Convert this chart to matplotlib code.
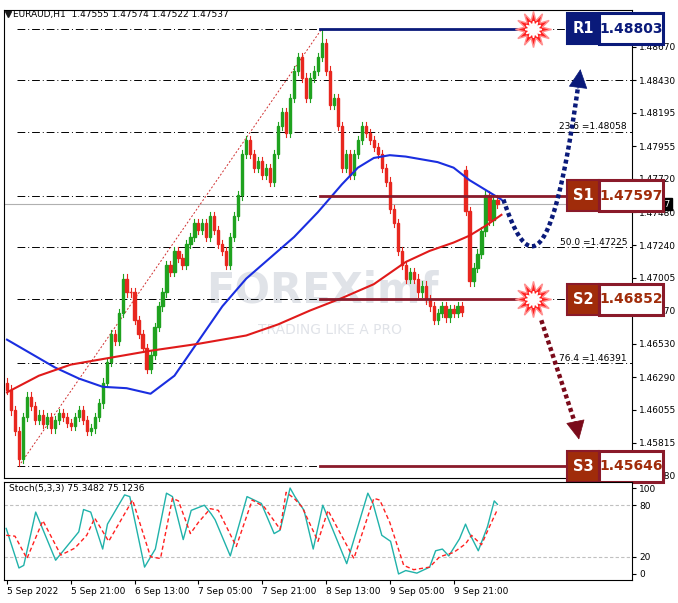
import matplotlib
matplotlib.use("Agg")
import matplotlib.pyplot as plt
import numpy as np
from matplotlib.patches import Rectangle

closes = [1.4620,1.4605,1.4590,1.4570,1.4600,1.4615,1.4608,1.4598,1.4602,
          1.4595,1.4600,1.4592,1.4598,1.4603,1.4600,1.4596,
          1.4594,1.4600,1.4605,1.4598,1.4590,
          1.4592,1.4600,1.4610,1.4625,
          1.4640,1.4660,1.4655,1.4675,1.4700,1.4690,
          1.4690,1.4670,1.4660,1.4650,1.4635,1.4645,
          1.4665,1.4680,1.4690,1.4710,1.4705,1.4720,
          1.4715,1.4710,1.4725,1.4730,1.4740,1.4735,1.4740,1.4730,
          1.4745,1.4735,1.4725,1.4720,1.4710,1.4730,
          1.4745,1.4760,1.4790,1.4800,1.4790,1.4780,
          1.4785,1.4775,1.4780,1.4770,1.4790,1.4810,
          1.4820,1.4805,1.4830,1.4850,1.4860,1.4845,
          1.4830,1.4845,1.4850,1.4860,1.4870,
          1.4850,1.4825,1.4830,1.4810,1.4780,1.4790,
          1.4775,1.4790,1.4800,1.4810,1.4805,
          1.4800,1.4795,1.4790,1.4780,1.4770,
          1.4750,1.4740,1.4720,1.4710,1.4700,
          1.4705,1.4700,1.4690,1.4695,1.4685,1.4680,
          1.4670,1.4675,1.4680,1.4672,1.4678,1.4675,1.4680,1.4676,
          1.4749,1.4698,1.4708,1.4718,1.4734,1.4760,1.4742,1.4757,1.47537]
first_open = 1.4625
gap_index = 115
gap_open = 1.4778
wick = 0.0003

blue_x = [0, 6, 12, 18, 24, 30, 36, 42, 48, 54, 60, 66, 72, 78, 84, 88, 92, 96, 100, 104, 108, 112, 116, 120, 124]
blue_y = [1.4656, 1.4646, 1.4636, 1.4628, 1.4622, 1.4621, 1.4617, 1.4630, 1.4655, 1.4680, 1.4700, 1.4715, 1.4730,
          1.4748, 1.4768, 1.4780, 1.4787, 1.4789, 1.4788, 1.4786, 1.4784, 1.4780, 1.4771, 1.4764, 1.4757]
red_x = [0, 8, 16, 24, 36, 48, 60, 68, 76, 84, 92, 100, 106, 112, 116, 120, 124]
red_y = [1.4618, 1.4630, 1.4638, 1.4642, 1.4648, 1.4653, 1.4659, 1.4667, 1.4677, 1.4686, 1.4696, 1.4712,
         1.4720, 1.4726, 1.4731, 1.4738, 1.4746]

levels = [1.48803, 1.48430, 1.48058, 1.47597, 1.47225, 1.46852, 1.46391, 1.45646]
sr_names = ["R1", "S1", "S2", "S3"]
sr_values = [1.48803, 1.47597, 1.46852, 1.45646]
fib_labels = {1.48058: "23.6 =1.48058", 1.47225: "50.0 =1.47225", 1.46391: "76.4 =1.46391"}
price_ticks = [1.48670,1.48430,1.48195,1.47955,1.47720,1.47480,1.47240,1.47005,1.46770,
               1.46530,1.46290,1.46055,1.45815,1.45580]
time_labels = ["5 Sep 2022","5 Sep 21:00","6 Sep 13:00","7 Sep 05:00","7 Sep 21:00",
               "8 Sep 13:00","9 Sep 05:00","9 Sep 21:00"]

k_x = [-0.2,3,4.2,7.2,12.2,15,18,19.2,21,24,25.2,29.5,30.8,34.5,37.2,40,41.5,44.2,46.2,49.5,
       51.2,52.2,56,60.2,63.8,67,68.5,71,72.2,74.5,76.8,79.2,85.2,90.5,91.8,94,96.2,98.2,100,
       102.8,106,107.5,109.2,110.8,113.5,115,115.8,118.2,120.5,122.2,123]
k_y = [53,7,10,72,16,32,49,75,72,29,58,92,90,8,29,94,90,40,74,80,70,63,21,90,82,47,51,100,
       90,74,29,80,12,94,82,45,38,0,4,1,8,27,29,21,41,58,49,27,55,85,81]
d_x = [-0.2,2,5,9,13.5,17,20,22,25.5,27,31.5,36,38.5,41.5,43,46,48,51,53,57.5,61.5,64.5,
       68.5,70,72,74,78,80.5,87,92,93.5,96,99.5,102,106,108.5,112,115,116.5,119,121,123]
d_y = [45,44,18,62,22,30,45,65,38,50,86,20,18,88,85,47,60,76,74,32,86,78,52,95,88,78,38,
       74,18,88,86,60,10,5,8,20,25,35,45,34,55,75]

W, H = 678, 603
fig = plt.figure(figsize=(W/100, H/100), dpi=100)
fig.patch.set_facecolor("white")

def p2y(py):
    return 1.48670 - (py - 47) * 7.21e-5

rect = [4/W, 1-478/H, 628/W, 468/H]
ax = fig.add_axes(rect)
ax.set_xlim(-0.75, 156.75)
ax.set_ylim(p2y(478), p2y(10))

for lv in levels:
    ax.axhline(lv, color="black", lw=0.7, ls=(0, (8, 3, 1, 3)), xmin=0.02, xmax=1)
for lv, t in fib_labels.items():
    ax.text(155.5, lv + 0.00004, t, ha="right", va="bottom", fontsize=6.5)
ax.axhline(closes[-1], color="#b0b0b0", lw=0.8)

ax.plot([3.5, 79], [1.4567, 1.48803], color="#d03030", lw=0.7, ls=(0, (2, 2)))

ax.text(50, 1.4683, "FOREXimf", fontsize=30, color="#9aa3b5", alpha=0.3, fontweight="bold", zorder=1)
ax.text(63, 1.4660, "TRADING LIKE A PRO", fontsize=10, color="#9aa3b5", alpha=0.3, zorder=1)

opens = [first_open] + closes[:-1]
opens[gap_index] = gap_open
for i, (o, c) in enumerate(zip(opens, closes)):
    col = "#1fa21f" if c > o else "#e8271f"
    hi = max(o, c) + wick
    lo = min(o, c) - wick
    if i == 79:
        hi = 1.48803
    if i == 3:
        lo = 1.4565
    ax.plot([i, i], [lo, hi], color=col, lw=0.8, zorder=4)
    ax.add_patch(Rectangle((i - 0.28, min(o, c)), 0.56, max(abs(c - o), 0.00003), color=col, zorder=4))

ax.plot(blue_x, blue_y, color="#1a2ee0", lw=1.5, zorder=5)
ax.plot(red_x, red_y, color="#e01a1a", lw=1.5, zorder=5)

ax.set_xticks([])
ax.yaxis.tick_right()
ax.set_yticks(price_ticks)
ax.set_yticklabels([f"{t:.5f}" for t in price_ticks], fontsize=6.5)
ax.tick_params(axis="y", length=3, pad=2)
ax.text(157.2, closes[-1], f"{closes[-1]:.5f}", fontsize=6.5, color="white", va="center",
        bbox=dict(fc="black", ec="black", pad=1), clip_on=False, zorder=5)
ax.text(1.5, p2y(14), "EURAUD,H1  1.47555 1.47574 1.47522 1.47537", fontsize=6.5, va="center")
ax.plot(0.3, p2y(14), marker="v", color="#1a1a1a", ms=4)
for s in ax.spines.values():
    s.set_linewidth(0.8)

ov = fig.add_axes(rect, sharex=ax, sharey=ax)
ov.set_facecolor("none")
ov.axis("off")

sr_cols = {"R1": ("#0a1a7a", "#0a1a7a"), "S1": ("#a02c0a", "#8a1a2a"),
           "S2": ("#a02c0a", "#8a1a2a"), "S3": ("#a02c0a", "#8a1a2a")}
for nm, v in zip(sr_names, sr_values):
    fc, ec = sr_cols[nm]
    xend = 131 if nm in ("R1", "S2") else 140.4
    ov.plot([78.5, xend], [v, v], color=ec if nm != "R1" else fc, lw=2, zorder=3)
    h = 0.00112
    ov.add_patch(Rectangle((140.4, v - h), 8.1, 2*h, facecolor=fc, edgecolor=ec, lw=1.5, zorder=6, clip_on=False))
    ov.add_patch(Rectangle((148.5, v - h), 16.0, 2*h, facecolor="white", edgecolor=ec, lw=2.2, zorder=6, clip_on=False))
    ov.text(144.45, v, nm, color="white", fontsize=10.5, fontweight="bold", ha="center", va="center", zorder=7)
    ov.text(156.5, v, f"{v:.5f}", color=fc, fontsize=10, fontweight="bold", ha="center", va="center", zorder=7)

# navy dotted curve (cubic bezier) with arrowhead
P = np.array([(124.5, 1.4757), (130.5, 1.4705), (136.5, 1.4700), (143.2, 1.4838)])
t = np.linspace(0, 1, 60)[:, None]
bz = (1-t)**3*P[0] + 3*(1-t)**2*t*P[1] + 3*(1-t)*t**2*P[2] + t**3*P[3]
ov.plot(bz[:, 0], bz[:, 1], color="#0a1a7a", lw=3.2, ls=(0, (0.9, 0.7)), zorder=6)
ov.annotate("", xy=(143.9, 1.4853), xytext=(143.1, 1.4835),
            arrowprops=dict(arrowstyle="-|>,head_length=0.9,head_width=0.45", color="#0a1a7a", lw=0.5,
                            mutation_scale=14), zorder=6)
ov.plot([134, 143.0], [1.4670, 1.4591], color="#7a0a1a", lw=3.2, ls=(0, (0.9, 0.7)), zorder=6)
ov.annotate("", xy=(143.6, 1.4582), xytext=(142.9, 1.4592),
            arrowprops=dict(arrowstyle="-|>,head_length=0.9,head_width=0.45", color="#7a0a1a", lw=0.5,
                            mutation_scale=14), zorder=6)

for v in (1.48803, 1.46852):
    ov.plot(132, v, marker=(12, 1, 0), ms=26, color="#ff2020", mec="#ff9090", mew=1, zorder=7)
    ov.plot(132, v, marker=(12, 1, 0), ms=12, color="white", zorder=7)

ax2 = fig.add_axes([4/W, 1-580/H, 628/W, 98/H])
ax2.set_xlim(-0.75, 156.75)
ax2.set_ylim(-7, 107)
ax2.axhline(80, color="#c0c0c0", lw=0.8, ls=(0, (3, 2)))
ax2.axhline(20, color="#c0c0c0", lw=0.8, ls=(0, (3, 2)))
ax2.plot(k_x, k_y, color="#20b2aa", lw=1)
ax2.plot(d_x, d_y, color="#ff2020", lw=1, ls=(0, (3, 2)))
ax2.yaxis.tick_right()
ax2.set_yticks([100, 80, 20, 0])
ax2.tick_params(axis="y", labelsize=6.5, length=3, pad=2)
ax2.set_xticks(np.arange(len(time_labels)) * 16)
ax2.set_xticklabels(time_labels, fontsize=6.5, ha="left")
ax2.tick_params(axis="x", length=3, pad=2)
ax2.text(0.5, 100, "Stoch(5,3,3) 75.3482 75.1236", fontsize=6.5, va="center")
for s in ax2.spines.values():
    s.set_linewidth(0.8)

fig.savefig("out.png", dpi=100)
